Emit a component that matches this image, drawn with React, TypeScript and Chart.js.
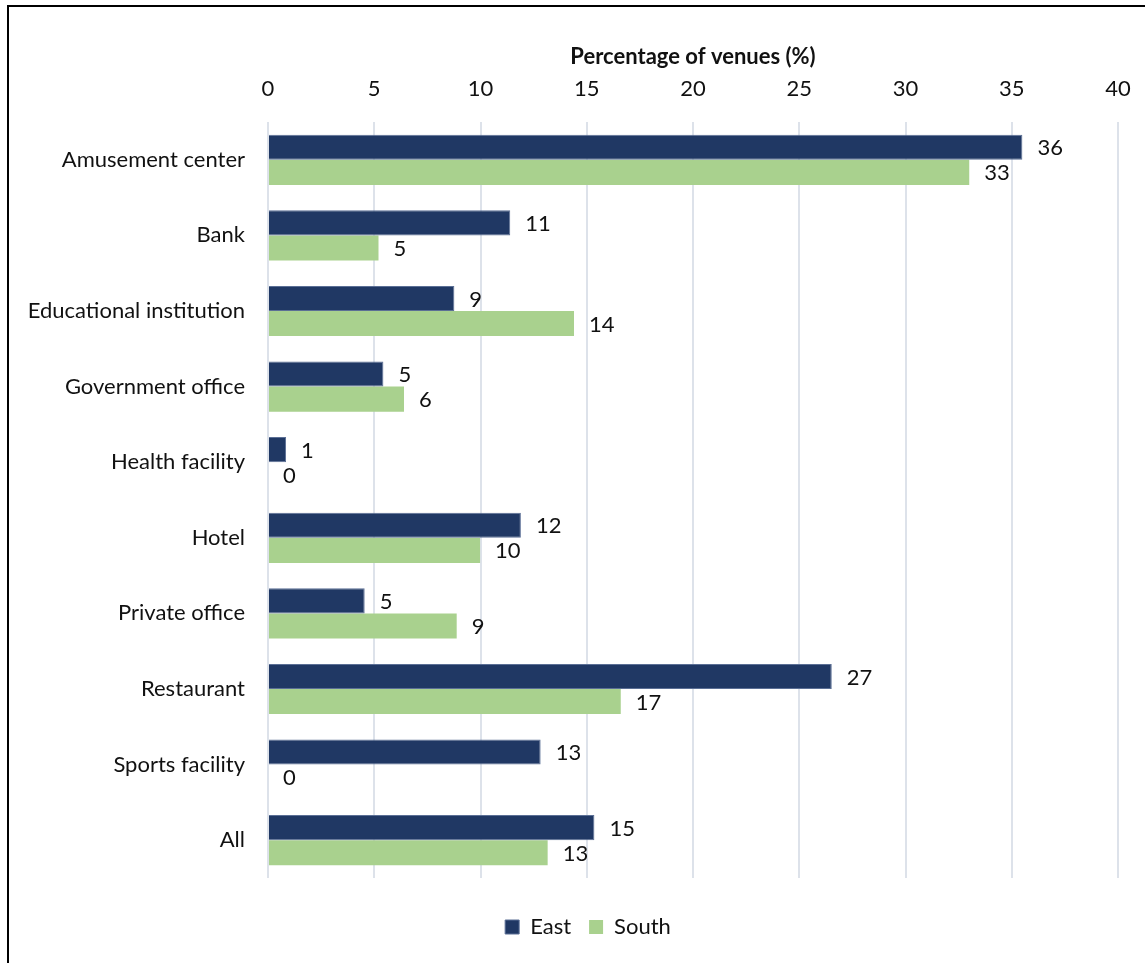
import React, { useEffect, useRef } from "react";
import { Chart, registerables } from "chart.js";

Chart.register(...registerables);

const categories = [
  "Amusement center",
  "Bank",
  "Educational institution",
  "Government office",
  "Health facility",
  "Hotel",
  "Private office",
  "Restaurant",
  "Sports facility",
  "All",
];
const eastValues = [35.5, 11.4, 8.77, 5.43, 0.85, 11.9, 4.55, 26.53, 12.83, 15.36];
const southValues = [33.0, 5.2, 14.4, 6.4, 0, 9.98, 8.88, 16.6, 0, 13.16];
const xTicks = [0, 5, 10, 15, 20, 25, 30, 35, 40];
const axisTitle = "Percentage of venues (%)";

const FONT = "Lato, 'Open Sans', sans-serif";
const FS = 22;

const dataLabels = {
  id: "dataLabels",
  afterDatasetsDraw(chart: any) {
    const ctx = chart.ctx;
    ctx.save();
    ctx.font = `${FS}px ${FONT}`;
    ctx.fillStyle = "#111111";
    ctx.textAlign = "left";
    ctx.textBaseline = "middle";
    chart.data.datasets.forEach((ds: any, di: number) => {
      const meta = chart.getDatasetMeta(di);
      meta.data.forEach((bar: any, i: number) => {
        const v = ds.data[i];
        ctx.fillText(String(Math.round(v)), bar.x + 15, bar.y + 1);
      });
    });
    ctx.restore();
  },
};

export default function App() {
  const ref = useRef<HTMLCanvasElement>(null);
  useEffect(() => {
    if (!ref.current) return;
    const chart = new Chart(ref.current, {
      type: "bar",
      data: {
        labels: categories,
        datasets: [
          {
            label: "East",
            data: eastValues,
            backgroundColor: "#203864",
            borderColor: "#5b6f95",
            borderWidth: 1,
            barPercentage: 1,
            categoryPercentage: 0.664,
          },
          {
            label: "South",
            data: southValues,
            backgroundColor: "#A9D18E",
            borderWidth: 0,
            barPercentage: 1,
            categoryPercentage: 0.664,
          },
        ],
      },
      options: {
        indexAxis: "y",
        animation: false,
        responsive: false,
        maintainAspectRatio: false,
        layout: { padding: { left: 0, right: 0, top: 0, bottom: 15 } },
        scales: {
          x: {
            position: "top",
            min: 0,
            max: 40,
            afterBuildTicks(scale: any) {
              scale.ticks = xTicks.map((v) => ({ value: v }));
            },
            afterFit(scale: any) {
              scale.height = 122;
            },
            grid: {
              color: "#dde2ea",
              lineWidth: 2,
              drawTicks: false,
            },
            border: { display: false },
            ticks: {
              padding: 20,
              color: "#111111",
              font: { family: FONT, size: FS },
            },
            title: {
              display: true,
              text: axisTitle,
              color: "#111111",
              font: { family: FONT, size: FS, weight: "bold" },
              padding: { top: 44, bottom: 0 },
            },
          },
          y: {
            afterFit(scale: any) {
              scale.width = 268;
            },
            grid: { display: false, drawTicks: false },
            border: { display: false },
            ticks: {
              padding: 23,
              color: "#111111",
              font: { family: FONT, size: FS },
            },
          },
          yR: {
            type: "category",
            position: "right",
            afterFit(scale: any) {
              scale.width = 58;
            },
            grid: { display: false, drawTicks: false },
            border: { display: false },
            ticks: { display: false },
          },
        },
        plugins: {
          legend: {
            position: "bottom",
            title: {
              display: true,
              text: "",
              font: { size: 10 },
              padding: { top: 0, bottom: 8 },
            },
            labels: {
              boxWidth: 14,
              boxHeight: 14,
              padding: 18,
              color: "#111111",
              font: { family: FONT, size: FS },
            },
          },
          tooltip: { enabled: false },
        },
      },
      plugins: [dataLabels],
    });
    return () => chart.destroy();
  }, []);

  return (
    <div
      style={{
        position: "fixed",
        left: 0,
        top: 0,
        width: 1145,
        height: 963,
        overflow: "hidden",
        background: "#fff",
      }}
    >
      <div
        style={{
          position: "absolute",
          left: 7,
          top: 5,
          width: 1200,
          height: 1000,
          border: "2px solid #000",
          boxSizing: "border-box",
        }}
      />
      <canvas
        ref={ref}
        width={1176}
        height={963}
        style={{ position: "absolute", left: 0, top: 0, width: 1176, height: 963 }}
      />
    </div>
  );
}
